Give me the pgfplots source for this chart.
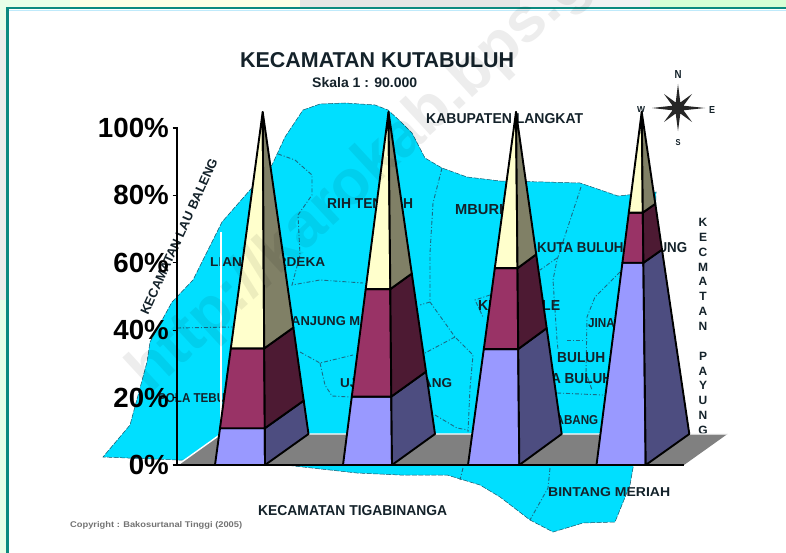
\documentclass[border=0pt]{standalone}
\usepackage{fontspec}
\usepackage{graphicx}
\usepackage{pgfplots}
\pgfplotsset{compat=1.18}
\setmainfont{Liberation Sans}
\definecolor{mapc}{HTML}{00DFFF}
\definecolor{distc}{HTML}{1A6A85}
\definecolor{labc}{HTML}{14222A}
\definecolor{frame}{HTML}{0B8A80}
\definecolor{bluef}{HTML}{9999FF}
\definecolor{blues}{HTML}{4D4D80}
\definecolor{marf}{HTML}{993366}
\definecolor{mars}{HTML}{4D1A33}
\definecolor{crf}{HTML}{FFFFCC}
\definecolor{crs}{HTML}{808066}
\definecolor{floorc}{HTML}{808080}
% x, baseline y, width, height, text
\newcommand\lab[5]{\node[inner sep=0pt,anchor=base west,text=labc] at (axis cs:#1,#2) {\resizebox{#3bp}{#4bp}{\textbf{#5}}};}
\pgfplotsset{district/.style={draw=distc,line width=0.9bp,dash pattern=on 4bp off 2bp on 1bp off 2bp,forget plot}}
\begin{document}
\begin{tikzpicture}
\clip[use as bounding box] (0,0) rectangle (786bp,553bp);
% ---------- map layer, in picture pixels
\begin{axis}[at={(0,0)},anchor=south west,scale only axis,width=786bp,height=553bp,
  xmin=0,xmax=786,ymin=0,ymax=553,y dir=reverse,hide axis,clip=false]
\addplot[fill=white,draw=none] coordinates {(0,0)(786,0)(786,553)(0,553)} --cycle;
\addplot[fill=green!9!white,draw=none] coordinates {(0,0)(786,0)(786,8)(8,8)(8,553)(0,553)} --cycle;
\addplot[fill=black!13!green!8!yellow!10!white,draw=none] coordinates {(70,0)(300,0)(300,7)(70,7)} --cycle;
\addplot[fill=black!10!white,draw=none] coordinates {(300,0)(520,0)(520,7)(300,7)} --cycle;
\addplot[fill=cyan!8!black!6!white,draw=none] coordinates {(520,0)(650,0)(650,7)(520,7)} --cycle;
\addplot[fill=green!16!white,draw=none] coordinates {(650,0)(786,0)(786,7)(650,7)} --cycle;
\addplot[fill=green!14!black!8!white,draw=none] coordinates {(0,30)(6,30)(6,300)(0,300)} --cycle;
\addplot[draw=cyan!25!white,line width=1bp] coordinates {(9,10.2)(786,10.2)};
\addplot[draw=frame,line width=2.8bp] coordinates {(7.5,553)(7.5,8)(786,8)};
% map body
\addplot[fill=mapc,draw=distc!80!black,line width=0.5bp,dash pattern=on 5bp off 1.5bp] coordinates {
(303,110)(320,104)(345,103)(375,105)(388,110)(400,121)(412,133)(425,158)(442,168)(467,177)(500,181)
(545,182)(580,183)(618,196)(656,192)(655,300)(640,430)(633,468)(630,485)(615,522)(583,523)(553,532)
(530,520)(500,497)(480,485)(447,475)(400,475)(357,473)(285,465)(178,460)(103,457)(130,425)(147,362)
(150,342)(172,302)(193,280)(222,222)(250,190)(272,165)(285,137)} --cycle;
% districts
\addplot[district] coordinates {(278,154)(295,160)(312,175)(312,195)(298,215)(300,255)(292,285)(320,280)(363,283)};
\addplot[district] coordinates {(177,328)(233,327)};
\addplot[district] coordinates {(300,352)(320,363)(353,355)};
\addplot[district] coordinates {(320,363)(325,385)(332,396)(350,397)};
\addplot[district] coordinates {(442,168)(433,203)(430,253)(430,302)(455,337)(473,355)(470,388)(468,432)};
\addplot[district] coordinates {(430,302)(420,305)};
\addplot[district] coordinates {(455,337)(425,353)};
\addplot[district] coordinates {(435,415)(457,428)(468,430)};
\addplot[district] coordinates {(581,187)(557,260)(553,280)(557,340)(558,350)};
\addplot[district] coordinates {(557,258)(540,270)};
\addplot[district] coordinates {(567,340)(585,340)};
\addplot[district] coordinates {(620,272)(595,297)(587,317)(586,373)(592,390)};
\addplot[district] coordinates {(557,393)(603,395)};
\addplot[district] coordinates {(490,295)(475,300)(483,317)};
\addplot[district] coordinates {(550,468)(548,488)(530,520)};
\addplot[district] coordinates {(463,468)(460,480)};
% compass
\addplot[fill=black!85!white,draw=none] coordinates {(678,84)(680.3,102.5)(692,94)(683.5,105.7)(705,108)(683.5,110.3)(692,122)(680.3,113.5)(678,131)(675.7,113.5)(664,122)(672.5,110.3)(652,108)(672.5,105.7)(664,94)(675.7,102.5)} --cycle;
% labels
\lab{240}{68}{274}{15}{KECAMATAN KUTABULUH}
\lab{312}{88}{105}{10}{Skala 1 : 90.000}
\lab{426}{123}{157}{10}{KABUPATEN LANGKAT}
\lab{327}{208}{86}{10}{RIH TENGAH}
\lab{455}{214}{48}{10}{MBURI}
\lab{537}{252}{150}{10}{KUTA BULUH GUGUNG}
\lab{210}{266}{115}{9}{LIANG MERDEKA}
\lab{284}{325}{76}{9}{TANJUNG M}
\lab{158}{402}{67}{9}{POLA TEBU}
\lab{340}{387}{112}{9}{UJUNG BAWANG}
\lab{478}{310}{82}{10}{KUTA MALE}
\lab{588}{327}{52}{9}{JINABUN}
\lab{557}{362}{48}{10}{BULUH}
\lab{524}{383}{88}{10}{KUTA BULUH}
\lab{498}{424}{100}{9}{SIABANG-ABANG}
\lab{548}{496}{122}{9}{BINTANG MERIAH}
\lab{258}{515}{189}{10}{KECAMATAN TIGABINANGA}
\node[inner sep=0pt,anchor=base west,text=black!55!white] at (axis cs:70,527) {\resizebox{172bp}{6bp}{\textbf{Copyright : Bakosurtanal Tinggi (2005)}}};
\node[inner sep=0pt,anchor=base west,rotate=65.7,text=labc] at (axis cs:148,316) {\resizebox{170bp}{9bp}{\textbf{KECAMATAN LAU BALENG}}};
\node[inner sep=0pt,text=labc] at (axis cs:678,75) {\resizebox{7bp}{8bp}{\textbf{N}}};
\node[inner sep=0pt,text=labc] at (axis cs:712,110) {\resizebox{6bp}{7bp}{\textbf{E}}};
\node[inner sep=0pt,text=labc] at (axis cs:678,143) {\resizebox{5bp}{6bp}{\textbf{S}}};
\node[inner sep=0pt,text=labc] at (axis cs:641,109) {\resizebox{8bp}{6bp}{\textbf{W}}};
\node[inner sep=0pt,anchor=north,text=labc,align=center,font=\fontsize{12bp}{14.86bp}\selectfont\bfseries] at (axis cs:703,218) {K\\E\\C\\M\\A\\T\\A\\N\\ \\P\\A\\Y\\U\\N\\G};
\end{axis}
% ---------- chart layer: x in picture pixels, y in percent
\begin{axis}[at={(177.5bp,88bp)},anchor=south west,scale only axis,width=506.5bp,height=337bp,
  xmin=177.5,xmax=684,ymin=0,ymax=100,clip=false,
  axis x line=bottom,axis y line=left,
  axis line style={-,black},
  xtick=\empty,
  ytick={0,20,40,60,80,100},yticklabels={0\%,20\%,40\%,60\%,80\%,100\%},
  tick align=outside,major tick length=5bp,
  every tick/.style={black,line width=1.3bp},
  yticklabel style={font=\fontsize{27.7bp}{30bp}\selectfont\bfseries,inner sep=0pt,xshift=-3.5bp},
  every axis plot/.append style={draw=black,line width=1.9bp,line join=round}]
% floor
\addplot[fill=floorc,draw=none] coordinates {(177.5,0)(684,0)(727.5,9.2)(221,9.2)} --cycle;
\addplot[draw=white,line width=1.4bp] coordinates {(179,0.3)(221,9.2)(727.5,9.2)};
\addplot[draw=white,line width=1.4bp] coordinates {(221,9.2)(221,69.1)};
\addplot[draw=black,line width=1.9bp] coordinates {(177.5,0)(684,0)};
\addplot[draw=black,line width=2.3bp] coordinates {(177.2,100.2)(177.2,-0.2)};
% pyramid 1: blue 10.9, maroon to 34.6
\addplot[fill=bluef] coordinates {(215,0)(265,0)(264.8,10.9)(220,10.9)} --cycle;
\addplot[fill=blues] coordinates {(265,0)(308.5,9.2)(303.7,19.1)(264.8,10.9)} --cycle;
\addplot[fill=marf] coordinates {(220,10.9)(264.8,10.9)(264.2,34.6)(230.8,34.6)} --cycle;
\addplot[fill=mars] coordinates {(264.8,10.9)(303.7,19.1)(293.4,40.8)(264.2,34.6)} --cycle;
\addplot[fill=crf] coordinates {(230.8,34.6)(264.2,34.6)(262.7,104.75)} --cycle;
\addplot[fill=crs] coordinates {(264.2,34.6)(293.4,40.8)(262.7,104.75)} --cycle;
% pyramid 2: 20.3, 52.2
\addplot[fill=bluef] coordinates {(343,0)(392,0)(391.3,20.3)(351.8,20.3)} --cycle;
\addplot[fill=blues] coordinates {(392,0)(435,9.2)(426,27.7)(391.3,20.3)} --cycle;
\addplot[fill=marf] coordinates {(351.8,20.3)(391.3,20.3)(390.3,52.2)(365.7,52.2)} --cycle;
\addplot[fill=mars] coordinates {(391.3,20.3)(426,27.7)(411.8,56.8)(390.3,52.2)} --cycle;
\addplot[fill=crf] coordinates {(365.7,52.2)(390.3,52.2)(388.5,104.75)} --cycle;
\addplot[fill=crs] coordinates {(390.3,52.2)(411.8,56.8)(388.5,104.75)} --cycle;
% pyramid 3: 34.4, 58.4
\addplot[fill=bluef] coordinates {(468,0)(519.3,0)(518.2,34.4)(483.8,34.4)} --cycle;
\addplot[fill=blues] coordinates {(519.3,0)(561.7,9.2)(546.7,40.6)(518.2,34.4)} --cycle;
\addplot[fill=marf] coordinates {(483.8,34.4)(518.2,34.4)(517.5,58.4)(494.8,58.4)} --cycle;
\addplot[fill=mars] coordinates {(518.2,34.4)(546.7,40.6)(536.2,62.5)(517.5,58.4)} --cycle;
\addplot[fill=crf] coordinates {(494.8,58.4)(517.5,58.4)(516,104.75)} --cycle;
\addplot[fill=crs] coordinates {(517.5,58.4)(536.2,62.5)(516,104.75)} --cycle;
% pyramid 4: 60, 74.9
\addplot[fill=bluef] coordinates {(596.5,0)(645.7,0)(643.4,60)(622.4,60)} --cycle;
\addplot[fill=blues] coordinates {(645.7,0)(689.3,9.2)(662,63.9)(643.4,60)} --cycle;
\addplot[fill=marf] coordinates {(622.4,60)(643.4,60)(642.8,74.9)(628.8,74.9)} --cycle;
\addplot[fill=mars] coordinates {(643.4,60)(662,63.9)(655.3,77.5)(642.8,74.9)} --cycle;
\addplot[fill=crf] coordinates {(628.8,74.9)(642.8,74.9)(641.7,104.75)} --cycle;
\addplot[fill=crs] coordinates {(642.8,74.9)(655.3,77.5)(641.7,104.75)} --cycle;
\end{axis}
% watermark
\node[inner sep=0pt,anchor=base west,rotate=42.7,text=black,text opacity=0.07,font=\fontsize{63bp}{66bp}\selectfont\bfseries] at (150bp,158bp) {http://karokab.bps.go.id};
\end{tikzpicture}
\end{document}
